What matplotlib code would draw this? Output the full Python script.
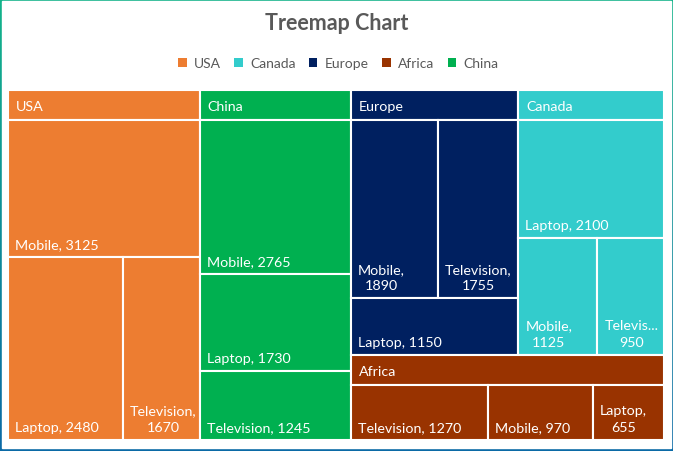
import numpy as np
import matplotlib.pyplot as plt
from matplotlib.patches import Rectangle, Patch
from matplotlib.colors import LinearSegmentedColormap

plt.rcParams['font.family'] = ['Lato', 'DejaVu Sans']

# data
regions = ['USA', 'China', 'Europe', 'Canada', 'Africa']
products_usa = ['Mobile', 'Laptop', 'Television']
sales_usa = [3125, 2480, 1670]
products_china = ['Mobile', 'Laptop', 'Television']
sales_china = [2765, 1730, 1245]
products_europe = ['Mobile', 'Television', 'Laptop']
sales_europe = [1890, 1755, 1150]
products_canada = ['Laptop', 'Mobile', 'Television']
sales_canada = [2100, 1125, 950]
products_africa = ['Television', 'Mobile', 'Laptop']
sales_africa = [1270, 970, 655]
legend_order = ['USA', 'Canada', 'Europe', 'Africa', 'China']

colors = {'USA': '#ED7D31', 'Canada': '#33CCCC', 'Europe': '#002060',
          'Africa': '#993300', 'China': '#00B050'}

groups = {
    'USA': (products_usa, sales_usa),
    'China': (products_china, sales_china),
    'Europe': (products_europe, sales_europe),
    'Canada': (products_canada, sales_canada),
    'Africa': (products_africa, sales_africa),
}
# how many items go in each strip (mimics Excel's arrangement)
top_strips = [1, 1, 2, 1]
leaf_strips = {'USA': [1, 1, 1], 'China': [1, 1, 1], 'Europe': [2, 1],
               'Canada': [1, 1, 1], 'Africa': [1, 1, 1]}


def layout(x, y, w, h, vals, counts):
    rects = []
    total = float(sum(vals))
    i = 0
    for k in counts:
        part = vals[i:i + k]
        s = float(sum(part))
        frac = s / total
        if w >= h:
            cw = w * frac
            yy = y
            for v in part:
                ch = h * v / s
                rects.append((x, yy, cw, ch))
                yy += ch
            x += cw
            w -= cw
        else:
            rh = h * frac
            xx = x
            for v in part:
                rw = w * v / s
                rects.append((xx, y, rw, rh))
                xx += rw
            y += rh
            h -= rh
        total -= s
        i += k
    return rects


W, H = 673, 452
fig = plt.figure(figsize=(W / 100, H / 100), dpi=100)

# gradient frame
bg = fig.add_axes([0, 0, 1, 1])
grad = np.linspace(0, 1, 100).reshape(-1, 1)
cm = LinearSegmentedColormap.from_list('frame', ['#13B38A', '#0B6AA6'])
bg.imshow(grad, aspect='auto', cmap=cm, extent=[0, 1, 0, 1])
bg.add_patch(Rectangle((2 / W, 3 / H), 1 - 4 / W, 1 - 5 / H, color='white'))
bg.set_xlim(0, 1)
bg.set_ylim(0, 1)
bg.axis('off')

x0, y0, x1, y1 = 8, 91, 664, 441
ax = fig.add_axes([x0 / W, 1 - y1 / H, (x1 - x0) / W, (y1 - y0) / H])
pw, ph = x1 - x0, y1 - y0
ax.set_xlim(0, pw)
ax.set_ylim(ph, 0)
ax.axis('off')

header = 30
pad = 7
fs = 10.3
group_totals = [sum(groups[r][1]) for r in regions]
group_rects = layout(0, 0, pw, ph, group_totals, top_strips)

fig.canvas.draw()
renderer = fig.canvas.get_renderer()


def text_width(s, size):
    t = ax.text(0, 0, s, fontsize=size)
    bb = t.get_window_extent(renderer)
    t.remove()
    return bb.width


for reg, (gx, gy, gw, gh) in zip(regions, group_rects):
    col = colors[reg]
    ax.add_patch(Rectangle((gx, gy), gw, header, facecolor=col,
                           edgecolor='white', lw=1.5))
    ax.text(gx + pad + 1, gy + header / 2 + 1, reg, color='white', fontsize=fs,
            ha='left', va='center')
    names, vals = groups[reg]
    leaves = layout(gx, gy + header, gw, gh - header, vals, leaf_strips[reg])
    for name, v, (lx, ly, lw, lh) in zip(names, vals, leaves):
        ax.add_patch(Rectangle((lx, ly), lw, lh, facecolor=col,
                               edgecolor='white', lw=1.5))
        label = f'{name}, {v}'
        avail = lw - pad - 3
        if text_width(label, fs) > avail:
            first = name + ','
            if text_width(first, fs) > avail:
                while len(first) > 1 and text_width(first + '...', fs) > avail:
                    first = first[:-1]
                first = first + '...'
            label = first + '\n' + str(v)
        ax.text(lx + pad, ly + lh - pad, label, color='white', fontsize=fs,
                ha='left', va='bottom', multialignment='center',
                linespacing=1.45)

fig.text(0.5, 1 - 23 / H, 'Treemap Chart', ha='center', va='center',
         fontsize=15.5, fontweight='bold', color='#595959')
handles = [Patch(facecolor=colors[r], label=r) for r in legend_order]
fig.legend(handles=handles, loc='center', bbox_to_anchor=(0.503, 1 - 64 / H),
           ncol=5, frameon=False, fontsize=10, labelcolor='#595959',
           handlelength=0.6, handleheight=0.6, handletextpad=0.55,
           columnspacing=0.95)

fig.savefig('out.png', dpi=100)
